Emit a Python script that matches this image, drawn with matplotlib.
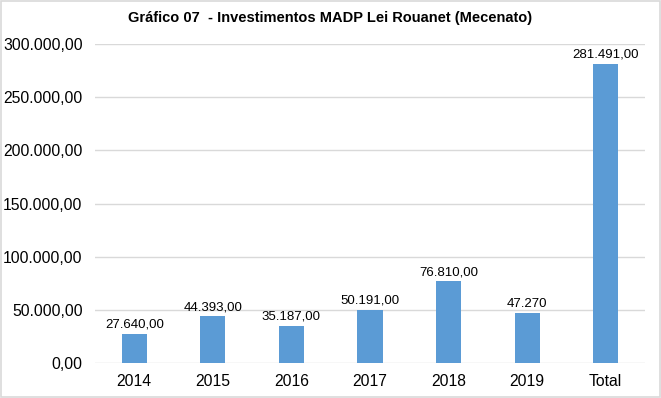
import matplotlib.pyplot as plt
from matplotlib.patches import Rectangle

plt.rcParams['font.family'] = ['Liberation Sans', 'DejaVu Sans']

anos = ['2014', '2015', '2016', '2017', '2018', '2019', 'Total']
valores = [27640.00, 44393.00, 35187.00, 50191.00, 76810.00, 47270.00, 281491.00]
rotulos = ['27.640,00', '44.393,00', '35.187,00', '50.191,00', '76.810,00', '47.270', '281.491,00']
yticks = [0, 50000, 100000, 150000, 200000, 250000, 300000]


def fmt_br(v):
    """Formato brasileiro com separador de milhar '.' e decimal ','."""
    s = f'{v:,.2f}'
    return s.replace(',', 'X').replace('.', ',').replace('X', '.')


fig = plt.figure(figsize=(6.61, 3.98), dpi=100)
ax = fig.add_axes([0.1437, 0.0879, 0.832, 0.8015])

x = range(len(anos))
ax.bar(x, valores, width=0.32, color='#5b9bd5', zorder=3)

for xi, v, r in zip(x, valores, rotulos):
    ax.annotate(r, (xi, v), xytext=(0, 2), textcoords='offset points',
                ha='center', va='bottom', fontsize=9.5, color='#000000')

ax.set_xlim(-0.5, len(anos) - 0.5)
ax.set_ylim(0, 300000)
ax.set_yticks(yticks)
ax.set_yticklabels([fmt_br(v) for v in yticks], fontsize=11.3)
ax.set_xticks(list(x))
ax.set_xticklabels(anos, fontsize=11.3)
ax.tick_params(length=0)
ax.tick_params(axis='x', pad=8)
ax.tick_params(axis='y', pad=9)
ax.grid(axis='y', color='#d9d9d9', linewidth=1, zorder=0)
for s in ax.spines.values():
    s.set_visible(False)

fig.text(0.5, 0.955, 'Gráfico 07  - Investimentos MADP Lei Rouanet (Mecenato)',
         ha='center', va='center', fontsize=10.5, fontweight='bold')

fig.patches.append(Rectangle((0.002, 0.003), 0.996, 0.994, transform=fig.transFigure,
                             fill=False, edgecolor='#d9d9d9', linewidth=1.2))

fig.savefig('out.png', dpi=100)
